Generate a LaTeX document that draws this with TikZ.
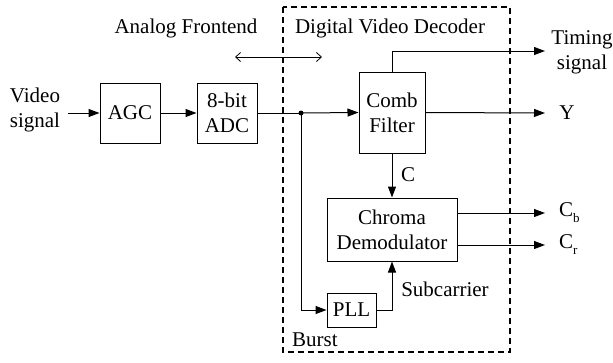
\documentclass[tikz,border=0pt]{standalone}
\usepackage{fontspec}
\setmainfont{Liberation Serif}
\newfontfamily\tmsfont{Liberation Serif}
\usetikzlibrary{arrows.meta}
\newcommand{\lowsub}[1]{\raisebox{-6pt}{\fontsize{13}{13}\selectfont #1}}
\begin{document}
\begin{tikzpicture}[x=1pt,y=-1pt,
  font=\tmsfont\fontsize{21}{25}\selectfont,
  blk/.style={draw,line width=1pt,inner sep=0pt,align=center},
  conn/.style={line width=1pt,-{Triangle[length=11pt,width=8pt]}},
  wire/.style={line width=1pt},
  lbl/.style={inner sep=0pt,align=center}]
\useasboundingbox (0,0) rectangle (613,362);
% dashed region
\draw[line width=2pt,dash pattern=on 6pt off 4pt] (283,7) rectangle (510,352);
% blocks
\node[blk,minimum width=60pt,minimum height=60pt] (agc) at (130,113) {AGC};
\node[blk,minimum width=60pt,minimum height=60pt] (adc) at (227,113) {8-bit\\ADC};
\node[blk,minimum width=66pt,minimum height=81pt] (comb) at (392,112.5) {Comb\\Filter};
\node[blk,minimum width=130pt,minimum height=63pt] (chroma) at (392,229.5) {Chroma\\Demodulator};
\node[blk,minimum width=49pt,minimum height=34pt] (pll) at (351.5,310) {PLL};
% labels
\node[lbl] (vin) at (35,110) {Video\\signal};
\node[lbl] (afe) at (186,28) {Analog Frontend};
\node[lbl] (dvd) at (390,28) {Digital Video Decoder};
\node[lbl] (tim) at (582,52) {Timing\\signal};
\node[lbl] (yl) at (567,113) {Y};
\node[lbl,anchor=west] (cb) at (559,213) {C\lowsub{b}};
\node[lbl,anchor=west] (cr) at (559,245) {C\lowsub{r}};
\node[lbl] (cl) at (408,175) {C};
\node[lbl] (sub) at (445,289) {Subcarrier};
\node[lbl,anchor=west] (burst) at (292,340) {Burst};
% coordinates
\coordinate (vstart) at (68,113);
\coordinate (j) at (301,113);
\coordinate (jb) at (301,310);
\coordinate (ttop) at (392,51);
\coordinate (tend) at (545,51);
\coordinate (yend) at (545,113);
\coordinate (cbstart) at (457,213);
\coordinate (cbend) at (545,213);
\coordinate (crstart) at (457,245);
\coordinate (crend) at (545,245);
\coordinate (pllr) at (392,310);
\coordinate (da) at (235,57);
\coordinate (db) at (322,57);
% connectors
\draw[conn] (vstart) -- (agc.west);
\draw[conn] (agc.east) -- (adc.west);
\draw[wire] (adc.east) -- (j);
\draw[conn] (j) -- (comb.west);
\fill (j) circle (2.5pt);
\draw[conn] (j) -- (jb) -- (pll.west);
\draw[conn] (comb.north) -- (ttop) -- (tend);
\draw[conn] (comb.east) -- (yend);
\draw[conn] (comb.south) -- (chroma.north);
\draw[conn] (cbstart) -- (cbend);
\draw[conn] (crstart) -- (crend);
\draw[conn] (pll.east) -- (pllr) -- (chroma.south);
\draw[line width=0.8pt,{Straight Barb[length=5pt,width=9pt]}-{Straight Barb[length=5pt,width=9pt]}] (da) -- (db);
\end{tikzpicture}
\end{document}
